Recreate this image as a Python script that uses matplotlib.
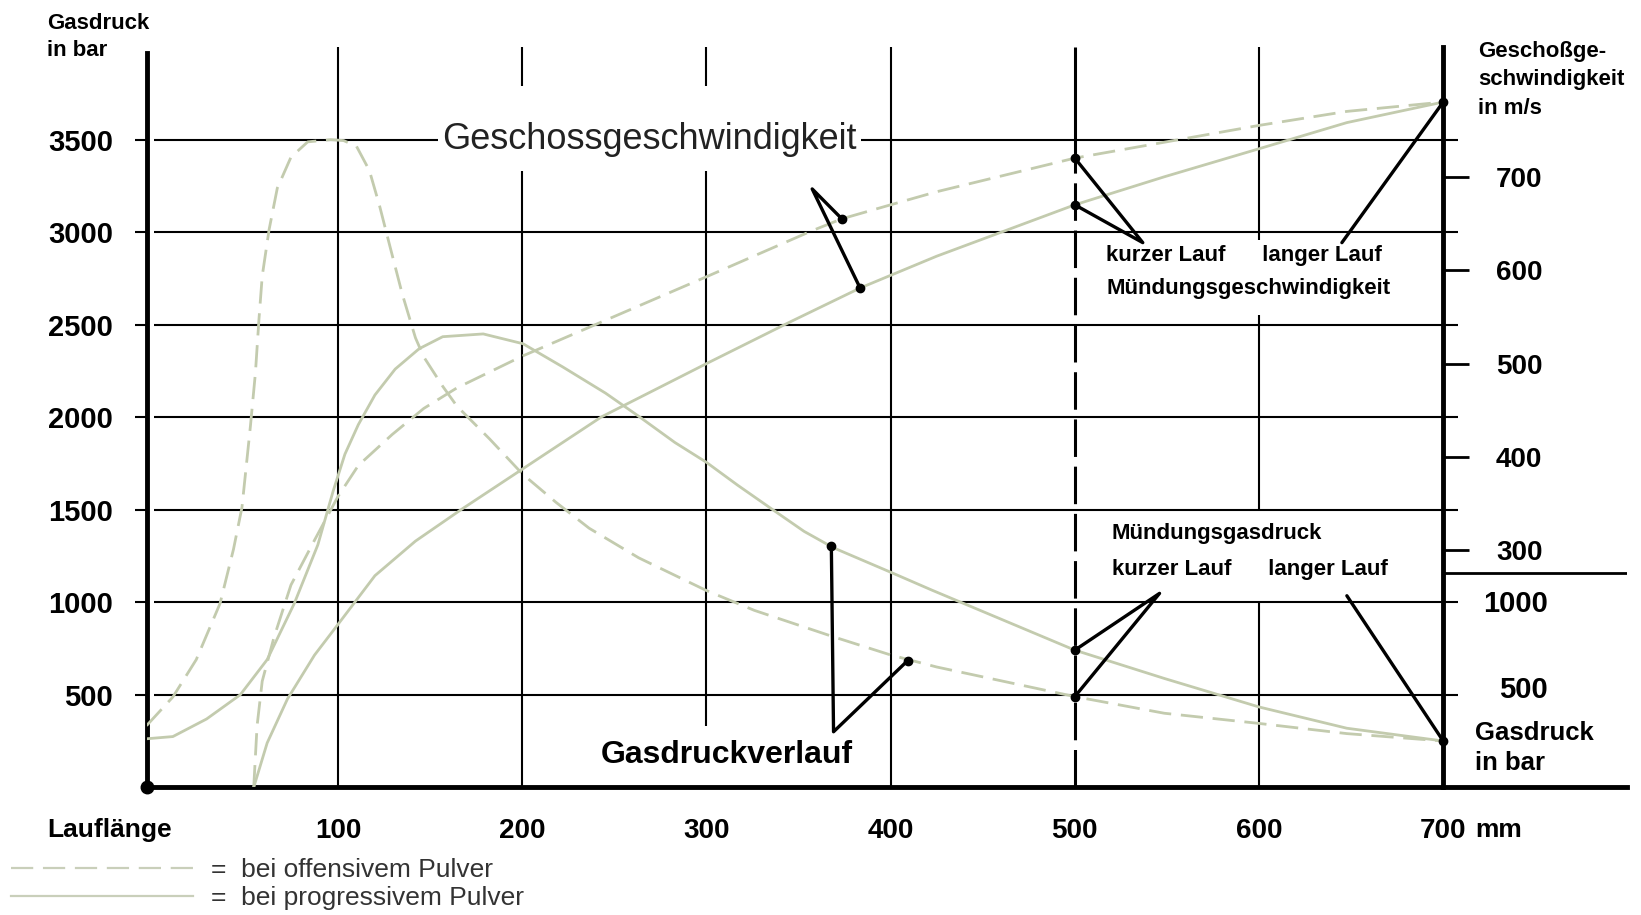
import numpy as np
import matplotlib.pyplot as plt
from matplotlib.lines import Line2D

plt.rcParams['font.family'] = ['Liberation Sans', 'DejaVu Sans']
plt.rcParams['font.weight'] = 'bold'
plt.rcParams['lines.scale_dashes'] = False

# Gasdruck (bar) ueber Lauflaenge (mm)
off_druck_x = [-4, 10.3, 23, 35.9, 43.2, 47.8, 52.4, 55.1, 57, 58.8, 62.5, 67, 74.4, 83.5,
               96, 103, 110, 117, 122.5, 128, 134.8, 142, 146.5, 156.8, 164.5, 182.4,
               200, 218.3, 236.3, 263.2, 300, 326, 369, 400, 425, 500, 548.6, 600, 647.7, 700]
off_druck = [333, 488, 690, 993, 1286, 1512, 1952, 2238, 2524, 2762, 3012, 3238, 3405, 3488,
             3500, 3495, 3464, 3333, 3143, 2929, 2667, 2429, 2326, 2167, 2060, 1881,
             1694, 1540, 1400, 1240, 1063, 956, 813, 715, 650, 490, 400, 345, 290, 250]
prog_druck_x = [-4, 10.3, 28.6, 46.9, 61.5, 76.2, 89, 97.3, 103.7, 111, 120, 131, 144, 156.8,
                178.8, 200.4, 221.9, 245.2, 263.2, 282.9, 300, 317, 335, 353, 369, 400.5,
                422.5, 500, 548.6, 600, 647.7, 700]
prog_druck = [262, 274, 369, 500, 690, 993, 1310, 1600, 1800, 1960, 2120, 2260, 2370, 2435,
              2450, 2397, 2272, 2130, 2005, 1863, 1756, 1632, 1507, 1383, 1294, 1160,
              1065, 741, 588, 434, 319, 250]

# Geschossgeschwindigkeit (m/s) ueber Lauflaenge (mm)
off_v_x = [54.2, 56, 58.8, 65.2, 74.4, 87.2, 100, 111, 129.3, 146.5, 164.5, 200, 240, 300,
           357, 373.5, 400, 425, 500, 548.6, 600, 647.7, 700]
off_v = [46.5, 112, 160, 207, 263, 311, 358, 391, 424, 452, 474, 508, 542, 593,
         642, 655, 670, 684, 720, 737, 755, 770, 780]
prog_v_x = [54.2, 61.5, 72.5, 87.2, 100, 120, 142, 167, 200, 243, 300, 345.8, 383.5, 425,
            500, 548.6, 600, 647.7, 700]
prog_v = [46.5, 94, 141, 188, 221, 273, 310, 344, 387, 443, 500, 545, 581, 615,
          670, 700, 730, 758, 780]

x_ticks = [100, 200, 300, 400, 500, 600, 700]
druck_ticks = [500, 1000, 1500, 2000, 2500, 3000, 3500]
v_ticks = [300, 400, 500, 600, 700]

CURVE = '#c3cbae'
DASH = (0, (16, 7))

fig = plt.figure(figsize=(16.41, 9.15), dpi=100)
ax = fig.add_axes([0.0893, 0.1396, 0.9024, 0.8089])
ax.set_xlim(-4, 800)
ax.set_ylim(0, 4000)
ax2 = ax.twinx()
ax2.set_ylim(46.5, 838.8)

# Raster
ax.hlines(druck_ticks, 0, 708, color='black', lw=1.5, zorder=1)
ax.vlines([100, 400], 0, 4000, color='black', lw=1.5, zorder=1)
ax.vlines([200, 300], 3790, 4000, color='black', lw=1.5, zorder=1)
ax.vlines([200, 300], [0, 330], 3330, color='black', lw=1.5, zorder=1)
ax.vlines([600, 600, 600], [0, 1500, 2960], [1000, 2550, 4000], color='black', lw=1.5, zorder=1)
ax.vlines(500, 3400, 4000, color='black', lw=2.2, zorder=1)
ax.vlines(500, 0, 3400, color='black', lw=2.2, linestyles=[(0, (27, 7))], zorder=1)
ax.hlines(1159, 700, 800, color='black', lw=2, zorder=1)

# Kurven
ck = dict(color=CURVE, lw=2, zorder=3, solid_joinstyle='round', dash_joinstyle='round')
ax.plot(off_druck_x, off_druck, ls=DASH, **ck)
ax.plot(prog_druck_x, prog_druck, **ck)
ax2.plot(off_v_x, off_v, ls=DASH, **ck)
ax2.plot(prog_v_x, prog_v, **ck)

# Hinweislinien
kw = dict(color='black', lw=2.4, zorder=4, solid_capstyle='round')
dot = dict(color='black', ms=6, zorder=5, ls='none', marker='o')
ax2.plot([373.5, 357.4, 383.4], [655, 687, 581], **kw)
ax2.plot([373.5, 383.4], [655, 581], **dot)
ax.plot([367.8, 369, 409.3], [1305, 300, 685], **kw)
ax.plot([367.8, 409.3], [1305, 685], **dot)
ax2.plot([500, 536.9, 500], [720, 629.5, 670], **kw)
ax2.plot([645, 700], [629.5, 780], **kw)
ax2.plot([500, 500, 700], [720, 670, 780], **dot)
ax.plot([500, 546, 500], [741, 1048, 490], **kw)
ax.plot([647.7, 700], [1035, 250], **kw)
ax.plot([500, 500, 700], [741, 490, 250], **dot)

# Achsen
for s in ['top', 'right']:
    ax.spines[s].set_visible(False)
ax.spines['left'].set_linewidth(3.5)
ax.spines['left'].set_bounds(0, 3970)
ax.spines['bottom'].set_linewidth(3.5)
ax.plot([-4], [0], 'o', color='black', ms=9, clip_on=False, zorder=6)
for s in ['top', 'left', 'bottom']:
    ax2.spines[s].set_visible(False)
ax2.spines['right'].set_position(('data', 700))
ax2.spines['right'].set_linewidth(3.5)

ax.set_yticks(druck_ticks)
ax.set_yticklabels([str(v) for v in druck_ticks])
ax.tick_params(axis='y', length=9, width=1.5, pad=15, labelsize=21)
ax.set_xticks(x_ticks)
ax.set_xticklabels([str(v) for v in x_ticks])
ax.tick_params(axis='x', length=0, pad=22, labelsize=20)
ax2.set_yticks(v_ticks)
ax2.set_yticklabels([str(v) for v in v_ticks])
ax2.tick_params(axis='y', length=19, width=2, pad=19, labelsize=20)

# Beschriftungen
white = dict(facecolor='white', edgecolor='none', pad=3)
ax.text(269, 3500, 'Geschossgeschwindigkeit', fontsize=26, fontweight='normal',
        ha='center', va='center', color='#222222', bbox=white, zorder=5)
ax.text(311, 175, 'Gasdruckverlauf', fontsize=23, ha='center', va='center',
        bbox=white, zorder=5)
ax.text(517, 2873, 'kurzer Lauf      langer Lauf', fontsize=16, ha='left', va='center', zorder=5)
ax.text(517, 2698, 'Mündungsgeschwindigkeit', fontsize=16, ha='left', va='center', zorder=5)
ax.text(520, 1369, 'Mündungsgasdruck', fontsize=16, ha='left', va='center', zorder=5)
ax.text(520, 1176, 'kurzer Lauf      langer Lauf', fontsize=16, ha='left', va='center', zorder=5)
ax.text(757, 990, '1000', fontsize=21, ha='right', va='center')
ax.text(757, 525, '500', fontsize=21, ha='right', va='center')
ax.text(730, -232, 'mm', fontsize=19, ha='center', va='center')
ax.text(-58, -232, 'Lauflänge', fontsize=19, ha='left', va='center')

fig.text(0.0287, 0.986, 'Gasdruck\nin bar', fontsize=16, ha='left', va='top', linespacing=1.4)
fig.text(0.9005, 0.955, 'Geschoßge-\nschwindigkeit\nin m/s', fontsize=16, ha='left',
         va='top', linespacing=1.45)
fig.text(0.899, 0.212, 'Gasdruck\nin bar', fontsize=18.5, ha='left', va='top', linespacing=1.3)

handles = [Line2D([], [], color='#c9cfba', lw=1.6, ls=DASH),
           Line2D([], [], color='#c9cfba', lw=1.6)]
fig.legend(handles, ['=  bei offensivem Pulver', '=  bei progressivem Pulver'],
           loc='lower left', bbox_to_anchor=(-0.003, -0.012), frameon=False,
           prop={'size': 19, 'weight': 'normal'}, handlelength=6.9, handletextpad=0.7,
           labelspacing=0.15, borderaxespad=0.2, labelcolor='#333333')

fig.savefig('out.png', dpi=100)
